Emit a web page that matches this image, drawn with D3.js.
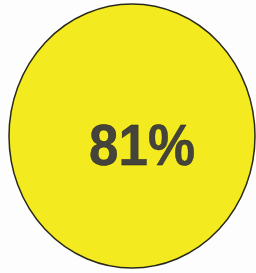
<!DOCTYPE html>
<html>
<head>
<meta charset="utf-8">
<script src="https://cdn.jsdelivr.net/npm/d3@7"></script>
<style>
  html, body { margin: 0; padding: 0; background: #fdfdfd; }
  svg { display: block; }
</style>
</head>
<body>
<div id="chart"></div>
<script>
// single figure badge
var values = [81];
var maxValues = [100];

var width = 256, height = 273;

var svg = d3.select("#chart").append("svg")
    .attr("width", width)
    .attr("height", height);

var pct = d3.format(".0%");

var badge = svg.selectAll("g.badge")
    .data(values)
    .enter()
    .append("g")
    .attr("class", "badge")
    .attr("transform", "translate(132,136)");

badge.append("ellipse")
    .attr("rx", 123)
    .attr("ry", 132)
    .style("fill", "#f4ea20")
    .style("stroke", "#2a2a1a")
    .style("stroke-width", 1.5);

badge.append("text")
    .attr("x", 10)
    .attr("y", 29)
    .attr("text-anchor", "middle")
    .attr("font-family", "Liberation Sans, Arial, Helvetica, sans-serif")
    .attr("font-weight", "bold")
    .attr("font-size", 58)
    .attr("textLength", 106)
    .attr("lengthAdjust", "spacingAndGlyphs")
    .style("fill", "#44443c")
    .style("stroke", "#1e1e1a")
    .style("stroke-width", 0.4)
    .text(function(d, i) { return pct(d / maxValues[i]); });
</script>
</body>
</html>
